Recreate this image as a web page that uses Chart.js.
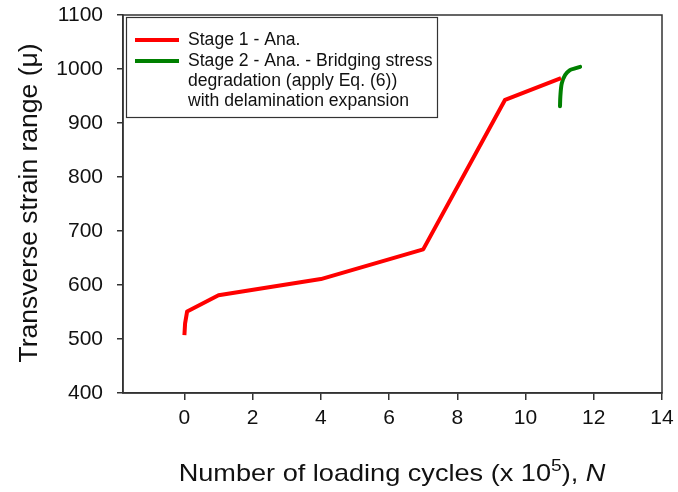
<!DOCTYPE html>
<html>
<head>
<meta charset="utf-8">
<script src="https://cdn.jsdelivr.net/npm/chart.js@4"></script>
<style>
  html, body { margin: 0; padding: 0; background: #fff; }
  #wrap { width: 678px; height: 492px; }
</style>
</head>
<body>
<div id="wrap"><canvas id="chart"></canvas></div>
<script>
// Stage 1 analytical curve
const stage1N = [0, 0.02, 0.08, 1, 4, 7, 9.4, 11.04];
const stage1Strain = [507, 529, 551, 581, 611, 666, 943, 983];

// Stage 2 - bridging stress degradation with delamination expansion
const stage2N = [11.01, 11.02, 11.06, 11.16, 11.3, 11.45, 11.6];
const stage2Strain = [931, 949, 973, 989, 998, 1001, 1004];

const xTicks = [0, 2, 4, 6, 8, 10, 12, 14];
const yTicks = [400, 500, 600, 700, 800, 900, 1000, 1100];

const legendLines = [
  ["Stage 1 - Ana."],
  ["Stage 2 - Ana. - Bridging stress", "degradation (apply Eq. (6))", "with delamination expansion"]
];

const FONT = "'Liberation Sans', Arial, sans-serif";
const AXIS_COLOR = "#333";

const toPoints = (xs, ys) => xs.map((x, i) => ({ x: x, y: ys[i] }));

// frame around the plot area, legend box and axis titles
const decorations = {
  id: "decorations",
  afterDraw(chart) {
    const ctx = chart.ctx;
    const a = chart.chartArea;
    ctx.save();
    ctx.strokeStyle = AXIS_COLOR;
    ctx.lineWidth = 1.5;
    ctx.strokeRect(a.left, a.top, a.right - a.left, a.bottom - a.top);

    // legend
    const bx = 126.5, by = 17.5, bw = 311, bh = 100;
    ctx.fillStyle = "#fff";
    ctx.fillRect(bx, by, bw, bh);
    ctx.lineWidth = 1.2;
    ctx.strokeRect(bx, by, bw, bh);
    ctx.font = "17.6px " + FONT;
    ctx.textBaseline = "middle";
    ctx.textAlign = "left";
    let rowY = 40;
    chart.data.datasets.forEach((ds, i) => {
      ctx.strokeStyle = ds.borderColor;
      ctx.lineWidth = 4;
      ctx.beginPath();
      ctx.moveTo(135, rowY);
      ctx.lineTo(179, rowY);
      ctx.stroke();
      ctx.fillStyle = "#111";
      legendLines[i].forEach((line, j) => {
        ctx.fillText(line, 188, rowY + j * 20);
      });
      rowY += 21;
    });

    // x axis title with superscript and italic N (slightly widened type)
    ctx.fillStyle = "#111";
    ctx.textBaseline = "alphabetic";
    const parts = [
      { t: "Number of loading cycles (x 10", f: "24px " + FONT, dy: 0 },
      { t: "5", f: "17px " + FONT, dy: -10 },
      { t: "), ", f: "24px " + FONT, dy: 0 },
      { t: "N", f: "italic 24px " + FONT, dy: 0 }
    ];
    const sx = 1.13;
    let total = 0;
    parts.forEach(p => { ctx.font = p.f; p.w = ctx.measureText(p.t).width; total += p.w; });
    ctx.save();
    ctx.translate(392 - total * sx / 2, 481);
    ctx.scale(sx, 1);
    let x = 0;
    parts.forEach(p => {
      ctx.font = p.f;
      ctx.fillText(p.t, x, p.dy);
      x += p.w;
    });
    ctx.restore();

    // y axis title
    ctx.translate(37, 203);
    ctx.rotate(-Math.PI / 2);
    ctx.font = "26.5px " + FONT;
    ctx.textAlign = "center";
    ctx.fillText("Transverse strain range (\u03bc)", 0, 0);
    ctx.restore();
  }
};

new Chart(document.getElementById("chart"), {
  type: "line",
  data: {
    datasets: [
      {
        label: "Stage 1 - Ana.",
        data: toPoints(stage1N, stage1Strain),
        borderColor: "#ff0000",
        borderWidth: 4,
        pointRadius: 0,
        borderJoinStyle: "round",
        tension: 0
      },
      {
        label: "Stage 2 - Ana. - Bridging stress degradation (apply Eq. (6)) with delamination expansion",
        data: toPoints(stage2N, stage2Strain),
        borderColor: "#008000",
        borderWidth: 4,
        pointRadius: 0,
        borderJoinStyle: "round",
        borderCapStyle: "round",
        tension: 0.3
      }
    ]
  },
  options: {
    responsive: true,
    maintainAspectRatio: false,
    animation: false,
    layout: { padding: { left: 0, right: 16, top: 15, bottom: 0 } },
    plugins: {
      legend: { display: false },
      tooltip: { enabled: false }
    },
    scales: {
      x: {
        type: "linear",
        min: -1.8,
        max: 14,
        afterBuildTicks: (scale) => { scale.ticks = xTicks.map(v => ({ value: v })); },
        afterFit: (scale) => {
          scale.height = 99;
          scale.paddingLeft = 0;
          scale.paddingRight = 0;
        },
        grid: { drawOnChartArea: false, drawTicks: true, tickLength: 7, color: AXIS_COLOR, lineWidth: 1.5 },
        border: { display: true, color: AXIS_COLOR, width: 1.5 },
        ticks: { color: "#111", font: { family: FONT, size: 21 }, padding: 6, maxRotation: 0 }
      },
      y: {
        min: 400,
        max: 1100,
        afterBuildTicks: (scale) => { scale.ticks = yTicks.map(v => ({ value: v })); },
        afterFit: (scale) => {
          scale.width = 123;
          scale.paddingTop = 0;
          scale.paddingBottom = 0;
        },
        grid: { drawOnChartArea: false, drawTicks: true, tickLength: 6, color: AXIS_COLOR, lineWidth: 1.5 },
        border: { display: true, color: AXIS_COLOR, width: 1.5 },
        ticks: {
          color: "#111",
          font: { family: FONT, size: 21 },
          padding: 14,
          callback: (v) => String(v)
        }
      }
    }
  },
  plugins: [decorations]
});
</script>
</body>
</html>
